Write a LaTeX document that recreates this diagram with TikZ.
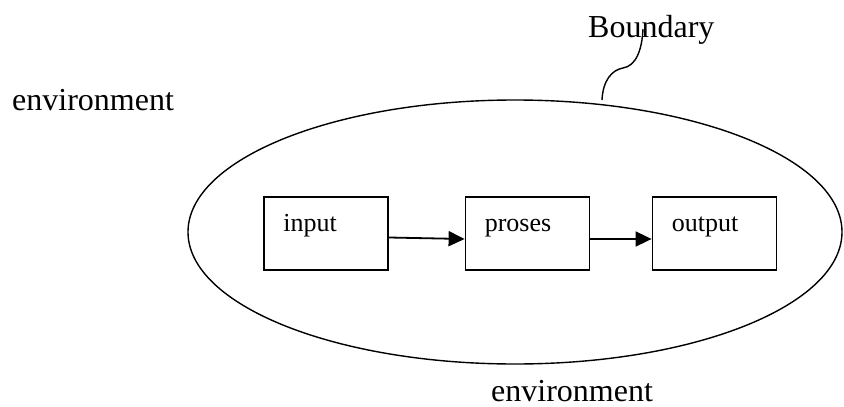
\documentclass[tikz,border=0pt]{standalone}
\usepackage{fontspec}
\setmainfont{Liberation Serif}
\usetikzlibrary{arrows.meta}

\begin{document}
\begin{tikzpicture}[x=1pt,y=-1pt,
  box/.style={draw,line width=1.8pt,minimum width=124pt,minimum height=73pt,inner sep=0pt},
  boxtext/.style={anchor=base west,inner sep=0pt,font=\fontsize{26}{30}\selectfont},
  bigtext/.style={anchor=base west,inner sep=0pt,font=\fontsize{32}{38}\selectfont},
  flow/.style={line width=1.8pt,-{Triangle[length=16pt,width=15pt]}}]

\useasboundingbox (0,0) rectangle (844,407);

% the system boundary
\draw[line width=1.4pt] (515,232) ellipse [x radius=327, y radius=132];

\node[box] (input) at (326,233.5) {};
\node[box] (proses) at (527.5,233.5) {};
\node[box] (output) at (714.5,233.5) {};

\node[boxtext] (inputtext) at ([xshift=20pt,yshift=-35pt]input.north west) {input};
\node[boxtext] (prosestext) at ([xshift=20pt,yshift=-35pt]proses.north west) {proses};
\node[boxtext] (outputtext) at ([xshift=20pt,yshift=-35pt]output.north west) {output};

\draw[flow] ([yshift=-4pt]input.east) -- ([yshift=-5.5pt]proses.west);
\draw[flow] ([yshift=-5.5pt]proses.east) -- ([yshift=-5.5pt]output.west);

\node[bigtext] (envleft) at (12,110) {environment};
\node[bigtext] (envbottom) at (491,401) {environment};
\node[bigtext] (boundary) at (588,37) {Boundary};

\coordinate (etop) at (602,100);
\coordinate (btip) at (643,29);
\draw[line width=1.4pt] (etop) .. controls (603,80) and (612,70) .. (623,68)
  .. controls (636,66) and (642,50) .. (btip);

\end{tikzpicture}
\end{document}
